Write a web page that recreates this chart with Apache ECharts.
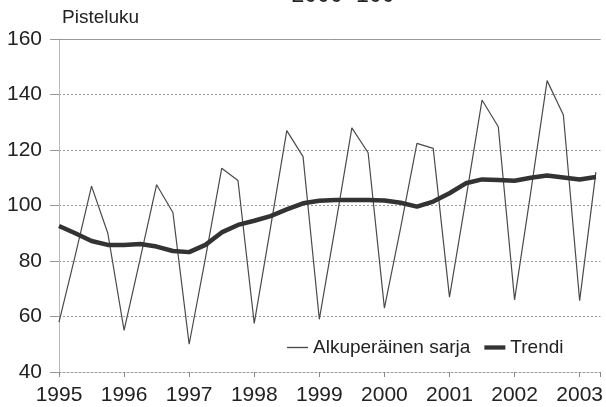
<!DOCTYPE html>
<html>
<head>
<meta charset="utf-8">
<script src="https://cdn.jsdelivr.net/npm/echarts@6/dist/echarts.min.js"></script>
<style>
  html, body { margin: 0; padding: 0; background: #fff; }
  #chart { width: 606px; height: 407px; }
</style>
</head>
<body>
<div id="chart"></div>
<script>
// quarterly series, 1995 Q1 .. 2003 Q2
var startYear = 1995
var original = [
  58, 82, 107, 90,
  55, 81, 107.5, 97.5,
  50, 81, 113.4, 109,
  57.5, 92, 127, 117.6,
  59, 93, 128, 119,
  63, 92, 122.4, 120.6,
  67, 102, 138, 128.4,
  66, 105, 145, 132.6,
  65.7, 112
]
var trend = [
  92.6, 90, 87.2, 85.8,
  85.8, 86.1, 85.2, 83.6,
  83.2, 85.8, 90.3, 93,
  94.5, 96.2, 98.6, 100.8,
  101.7, 102, 102, 102,
  101.8, 101, 99.6, 101.4,
  104.4, 108, 109.4, 109.2,
  108.9, 110, 110.8, 110.1,
  109.4, 110.3
]
var names = ['Alkuperäinen sarja', 'Trendi']
var yTicks = [40, 60, 80, 100, 120, 140, 160]

function toPoints (arr) {
  return arr.map(function (v, i) { return [startYear + i / 4, v] })
}

var font = "'Liberation Sans', Arial, sans-serif"
var chart = echarts.init(document.getElementById('chart'))

chart.setOption({
  animation: false,
  textStyle: { fontFamily: font },
  title: {
    text: '2000=100',
    left: 338,
    top: -21,
    textAlign: 'center',
    textStyle: { fontFamily: font, fontSize: 23, fontWeight: 'normal', color: '#222' }
  },
  graphic: [{
    type: 'text',
    left: 62,
    top: 8,
    style: { text: 'Pisteluku', font: '19px ' + font, fill: '#222' }
  }],
  legend: {
    data: [
      { name: names[0], icon: 'path://M0,0 L20,0 L20,1.3 L0,1.3 Z' },
      { name: names[1], icon: 'path://M0,0 L22,0 L22,4.5 L0,4.5 Z' }
    ],
    left: 282,
    top: 333,
    itemWidth: 21,
    itemHeight: 14,
    itemGap: 14,
    textStyle: { fontFamily: font, fontSize: 19, color: '#222' }
  },
  grid: { left: 59, right: 0, top: 39, bottom: 35 },
  xAxis: {
    type: 'value',
    min: startYear,
    max: 2003.32,
    interval: 1,
    axisLine: { show: true, lineStyle: { color: '#999', type: [2, 2] } },
    axisTick: { show: true, length: 5, lineStyle: { color: '#888' } },
    splitLine: { show: false },
    axisLabel: {
      margin: 13,
      fontSize: 21,
      color: '#222',
      fontFamily: font,
      formatter: function (v) { return Math.abs(v - Math.round(v)) < 1e-6 ? String(Math.round(v)) : '' }
    }
  },
  yAxis: {
    type: 'value',
    min: yTicks[0],
    max: yTicks[yTicks.length - 1],
    interval: 20,
    axisLine: { show: true, lineStyle: { color: '#bbb' } },
    axisTick: { show: true, length: 9, lineStyle: { color: '#999' } },
    splitLine: { show: true, lineStyle: { color: '#999', type: [2, 2], width: 1 } },
    axisLabel: { margin: 17, fontSize: 21, color: '#222', fontFamily: font }
  },
  series: [
    {
      name: names[0],
      type: 'line',
      symbol: 'none',
      data: toPoints(original),
      lineStyle: { color: '#4a4a4a', width: 1.2 },
      itemStyle: { color: '#4a4a4a' },
      markLine: {
        silent: true,
        symbol: 'none',
        label: { show: false },
        lineStyle: { color: '#999', type: 'solid', width: 1 },
        data: [{ yAxis: yTicks[yTicks.length - 1] }]
      },
      z: 2
    },
    {
      name: names[1],
      type: 'line',
      symbol: 'none',
      data: toPoints(trend),
      lineStyle: { color: '#333', width: 4.5 },
      itemStyle: { color: '#333' },
      z: 3
    }
  ]
})
</script>
</body>
</html>
